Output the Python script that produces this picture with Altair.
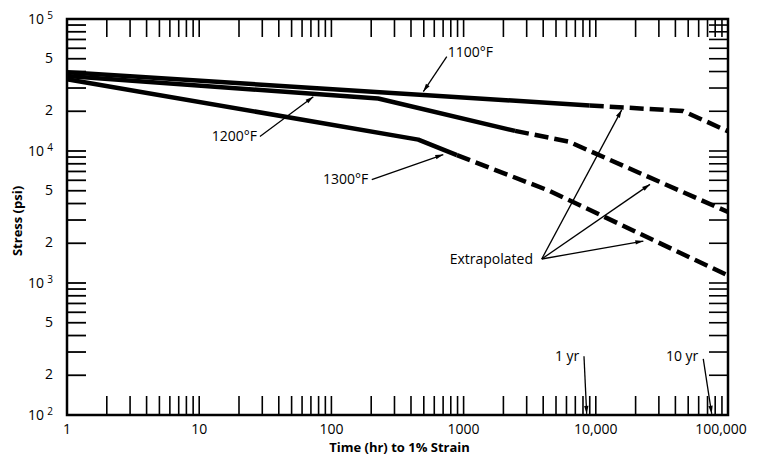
import math
import altair as alt
import pandas as pd

W, H = 661, 396
FONT = "Open Sans"

# ---- curve data (time in hr, stress in psi) ----
solid_1100_t = [1, 9000]
solid_1100_s = [39500, 22100]
dash_1100_t = [9000, 45700, 100000]
dash_1100_s = [22100, 20100, 14100]

solid_1200_t = [1, 226, 2450]
solid_1200_s = [37000, 25000, 14200]
dash_1200_t = [2450, 6200, 100000]
dash_1200_s = [14200, 11800, 3450]

solid_1300_t = [1, 454, 890]
solid_1300_s = [35000, 12200, 9300]
dash_1300_t = [890, 4500, 100000]
dash_1300_s = [9300, 4970, 1140]

# ---- annotation arrows ----
arrow_from_t = [746, 28.8, 202, 3900, 3900, 3900, 8140, 65000]
arrow_from_s = [51800, 12900, 6080, 1520, 1520, 1520, 279, 266]
arrow_to_t = [496, 73, 702, 15700, 25700, 22900, 8530, 75300]
arrow_to_s = [28200, 25800, 9400, 20500, 5590, 2080, 102, 102]

# ---- annotation labels (right edge anchor) ----
label_text = ["1100°F", "1200°F", "1300°F", "Extrapolated", "1 yr", "10 yr"]
label_t = [1668, 27.4, 190, 3350, 7500, 59600]
label_s = [55400, 12700, 6010, 1490, 274, 274]

# ---- axes ----
x_label_vals = [1, 10, 100, 1000, 10000]
x_label_text = ["1", "10", "100", "1000", "10,000"]
x_last_val = [100000]
x_last_text = ["100,000"]
y_minor_label_vals = [200, 500, 2000, 5000, 20000, 50000]
y_minor_label_text = ["2", "5", "2", "5", "2", "5"]
y_pow_vals = [100, 1000, 10000, 100000]
y_pow_exp = ["2", "3", "4", "5"]
mantissas = [2, 3, 4, 5, 6, 7, 8, 9, 10]
x_tick_vals = [m * 10 ** d for d in range(0, 5) for m in mantissas if m * 10 ** d < 100000]
y_tick_vals = [m * 10 ** d for d in range(2, 5) for m in mantissas if m * 10 ** d < 100000]

xs = alt.Scale(type="log", domain=[1, 100000], nice=False)
ys = alt.Scale(type="log", domain=[100, 100000], nice=False)


def curve_df(parts):
    rows = []
    for name, ts, ss in parts:
        for i, (t, s) in enumerate(zip(ts, ss)):
            rows.append({"series": name, "i": i, "t": t, "s": s})
    return pd.DataFrame(rows)


solid_df = curve_df([("1100", solid_1100_t, solid_1100_s),
                     ("1200", solid_1200_t, solid_1200_s),
                     ("1300", solid_1300_t, solid_1300_s)])
dash_df = curve_df([("1100", dash_1100_t, dash_1100_s),
                    ("1200", dash_1200_t, dash_1200_s),
                    ("1300", dash_1300_t, dash_1300_s)])

X = lambda f: alt.X(f"{f}:Q", scale=xs, axis=None)
Y = lambda f: alt.Y(f"{f}:Q", scale=ys, axis=None)

solid = alt.Chart(solid_df).mark_line(color="black", strokeWidth=4.5, strokeJoin="round").encode(
    x=X("t"), y=Y("s"), detail="series:N", order="i:O")
dashed = alt.Chart(dash_df).mark_line(color="black", strokeWidth=4.5, strokeDash=[14, 6],
                                      strokeJoin="round").encode(
    x=X("t"), y=Y("s"), detail="series:N", order="i:O")

arr = pd.DataFrame({"t1": arrow_from_t, "s1": arrow_from_s, "t2": arrow_to_t, "s2": arrow_to_s})
arr["ang"] = [
    math.degrees(math.atan2((math.log10(b) - math.log10(a)) * W / 5,
                            (math.log10(d) - math.log10(c)) * H / 3)) % 360
    for a, b, c, d in zip(arr.t1, arr.t2, arr.s1, arr.s2)
]
arrow_lines = alt.Chart(arr).mark_rule(color="black", strokeWidth=1.3).encode(
    x=X("t1"), y=Y("s1"), x2="t2:Q", y2="s2:Q")
arrow_heads = alt.Chart(arr).mark_point(shape="M0,0L0.55,2L-0.55,2Z", filled=True, size=64,
                                        opacity=1, color="black", strokeWidth=0).encode(
    x=X("t2"), y=Y("s2"), angle=alt.Angle("ang:Q", scale=None))

labels = alt.Chart(pd.DataFrame({"txt": label_text, "t": label_t, "s": label_s})).mark_text(
    font=FONT, fontSize=14, align="right", baseline="middle", color="black").encode(
    x=X("t"), y=Y("s"), text="txt:N")

# ticks (inward, on all four sides)
xt = pd.DataFrame({"v": x_tick_vals})
yt = pd.DataFrame({"v": y_tick_vals})
tick_bottom = alt.Chart(xt).mark_rule(color="black", strokeWidth=1.6).encode(
    x=X("v"), y=alt.value(H), y2=alt.value(H - 19))
tick_top = alt.Chart(xt).mark_rule(color="black", strokeWidth=1.6).encode(
    x=X("v"), y=alt.value(0), y2=alt.value(18))
tick_left = alt.Chart(yt).mark_rule(color="black", strokeWidth=1.8).encode(
    y=Y("v"), x=alt.value(0), x2=alt.value(19))
tick_right = alt.Chart(yt).mark_rule(color="black", strokeWidth=1.6).encode(
    y=Y("v"), x=alt.value(W), x2=alt.value(W - 19))

# axis labels
xlab = alt.Chart(pd.DataFrame({"v": x_label_vals, "txt": x_label_text})).mark_text(
    font=FONT, fontSize=14, align="center", baseline="middle", color="black").encode(
    x=X("v"), y=alt.value(H + 15), text="txt:N")
xlab_last = alt.Chart(pd.DataFrame({"v": x_last_val, "txt": x_last_text})).mark_text(
    font=FONT, fontSize=14, align="center", baseline="middle", color="black", dx=-7).encode(
    x=X("v"), y=alt.value(H + 15), text="txt:N")
ylab_minor = alt.Chart(pd.DataFrame({"v": y_minor_label_vals, "txt": y_minor_label_text})).mark_text(
    font=FONT, fontSize=14, align="right", baseline="middle", color="black").encode(
    y=Y("v"), x=alt.value(-14), text="txt:N")
ylab_ten = alt.Chart(pd.DataFrame({"v": y_pow_vals, "txt": ["10"] * 4})).mark_text(
    font=FONT, fontSize=14, align="right", baseline="middle", color="black", dy=1).encode(
    y=Y("v"), x=alt.value(-23), text="txt:N")
ylab_exp = alt.Chart(pd.DataFrame({"v": y_pow_vals, "txt": y_pow_exp})).mark_text(
    font=FONT, fontSize=10, align="right", baseline="middle", color="black", dy=-3).encode(
    y=Y("v"), x=alt.value(-14), text="txt:N")

titles = pd.DataFrame({"txt": ["Time (hr) to 1% Strain"]})
xtitle = alt.Chart(titles).mark_text(font=FONT, fontSize=13, fontWeight="bold", align="center",
                                     baseline="middle", color="black").encode(
    x=alt.value(W / 2 + 2), y=alt.value(H + 33), text="txt:N")
ytitle = alt.Chart(pd.DataFrame({"txt": ["Stress (psi)"]})).mark_text(
    font=FONT, fontSize=13, fontWeight="bold", align="center", baseline="middle",
    color="black", angle=270).encode(
    x=alt.value(-49), y=alt.value(202), text="txt:N")

chart = alt.layer(
    tick_bottom, tick_top, tick_left, tick_right,
    solid, dashed, arrow_lines, arrow_heads, labels,
    xlab, xlab_last, ylab_minor, ylab_ten, ylab_exp, xtitle, ytitle,
).properties(
    width=W, height=H, autosize="none",
    padding={"left": 59, "top": 11, "right": 24, "bottom": 41},
    background="white",
).configure_view(stroke="black", strokeWidth=2.5)

chart.save("out.html", embed_options={"renderer": "svg", "actions": False})
